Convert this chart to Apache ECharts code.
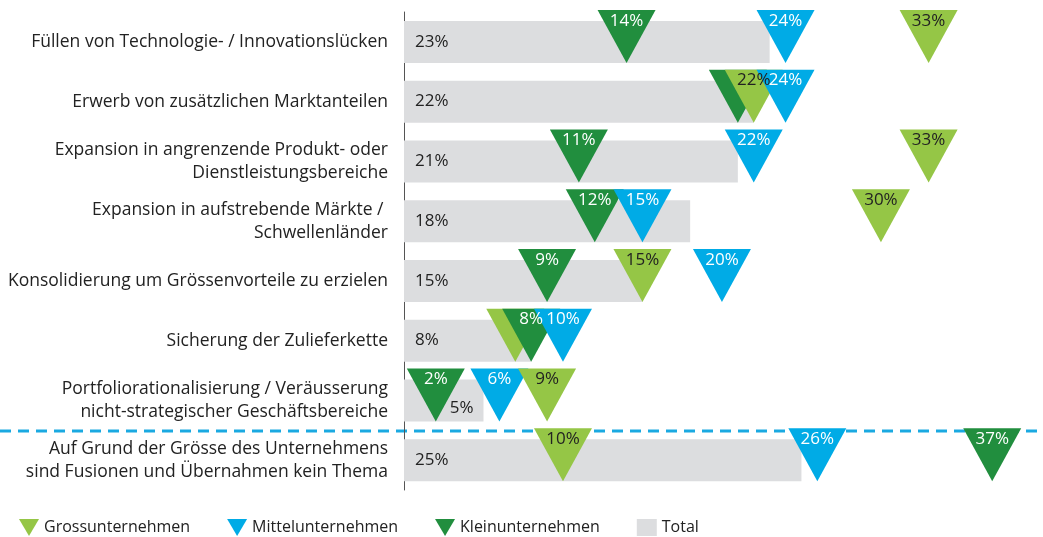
<!DOCTYPE html>
<html>
<head>
<meta charset="utf-8">
<script src="https://cdn.jsdelivr.net/npm/echarts@6/dist/echarts.min.js"></script>
<style>
  html, body { margin: 0; padding: 0; background: #fff; }
  #main { width: 1043px; height: 537px; }
</style>
</head>
<body>
<div id="main"></div>
<script>
// Kategorien (von oben nach unten)
var categories = [
  'Füllen von Technologie- / Innovationslücken',
  'Erwerb von zusätzlichen Marktanteilen',
  'Expansion in angrenzende Produkt- oder\nDienstleistungsbereiche',
  'Expansion in aufstrebende Märkte / \nSchwellenländer',
  'Konsolidierung um Grössenvorteile zu erzielen',
  'Sicherung der Zulieferkette',
  'Portfoliorationalisierung / Veräusserung\nnicht-strategischer Geschäftsbereiche',
  'Auf Grund der Grösse des Unternehmens\nsind Fusionen und Übernahmen kein Thema'
];
var total = [23, 22, 21, 18, 15, 8, 5, 25];
var gross = [33, 22, 33, 30, 15, 7, 9, 10];
var mittel = [24, 24, 22, 15, 20, 10, 6, 26];
var klein = [14, 21, 11, 12, 9, 8, 2, 37];

var COL_GROSS = '#95c646';
var COL_MITTEL = '#00abe6';
var COL_KLEIN = '#218e3e';
var COL_TOTAL = '#dcdddf';
var FONT = '"Open Sans", sans-serif';

var allSeries = [gross, mittel, klein];

// Label verdeckt, wenn ein grösserer Wert in derselben Zeile sehr nah liegt
function covered(v, row) {
  for (var i = 0; i < allSeries.length; i++) {
    var o = allSeries[i][row];
    if (o > v && o - v < 1.5) return true;
  }
  return false;
}

function triSeries(name, values, color, textColor) {
  return {
    name: name,
    type: 'custom',
    itemStyle: { color: color },
    data: values.map(function (v, i) { return [v, i]; }),
    renderItem: function (params, api) {
      var v = api.value(0);
      var row = api.value(1);
      var p = api.coord([v, row]);
      var w = 29, up = 32, down = 21;
      var children = [{
        type: 'polygon',
        z2: v * 10,
        shape: { points: [[p[0] - w, p[1] - up], [p[0] + w, p[1] - up], [p[0], p[1] + down]] },
        style: { fill: color }
      }];
      if (!covered(v, row)) {
        children.push({
          type: 'text',
          z2: 1000,
          x: p[0], y: p[1] - 21,
          style: {
            text: v + '%', fill: textColor, font: '17px ' + FONT,
            align: 'center', verticalAlign: 'middle'
          }
        });
      }
      return { type: 'group', children: children };
    }
  };
}

var chart = echarts.init(document.getElementById('main'));

var totalData = total.map(function (v, i) {
  var d = { value: v };
  if (i === 6) d.label = { position: 'insideRight', distance: 10, offset: [0, 8] };
  return d;
});

var option = {
  animation: false,
  textStyle: { fontFamily: FONT },
  grid: { left: 404, right: 19, top: 12, height: 478, containLabel: false },
  xAxis: { type: 'value', min: 0, max: 39, show: false },
  yAxis: {
    type: 'category', inverse: true, data: categories,
    axisLine: { show: true, lineStyle: { color: '#555', width: 1 } },
    axisTick: { show: false },
    axisLabel: { color: '#222', fontSize: 17.5, lineHeight: 23, margin: 16, fontFamily: FONT, align: 'right' }
  },
  legend: {
    left: 14, top: 514,
    itemWidth: 20, itemHeight: 17, itemGap: 37,
    textStyle: { color: '#222', fontSize: 16, fontFamily: FONT },
    data: [
      { name: 'Grossunternehmen', icon: 'path://M0,0L20,0L10,17Z' },
      { name: 'Mittelunternehmen', icon: 'path://M0,0L20,0L10,17Z' },
      { name: 'Kleinunternehmen', icon: 'path://M0,0L20,0L10,17Z' },
      { name: 'Total', icon: 'rect' }
    ]
  },
  series: [
    {
      name: 'Total', type: 'bar', barWidth: 42, z: 1,
      itemStyle: { color: COL_TOTAL },
      label: {
        show: true, position: 'insideLeft', distance: 11,
        color: '#222', fontSize: 17, fontFamily: FONT, formatter: '{c}%'
      },
      data: totalData
    },
    triSeries('Grossunternehmen', gross, COL_GROSS, '#222'),
    triSeries('Mittelunternehmen', mittel, COL_MITTEL, '#fff'),
    triSeries('Kleinunternehmen', klein, COL_KLEIN, '#fff')
  ]
};
chart.setOption(option);

// gestrichelte Trennlinie zwischen den letzten beiden Kategorien
var y6 = chart.convertToPixel({ yAxisIndex: 0 }, categories[6]);
var y7 = chart.convertToPixel({ yAxisIndex: 0 }, categories[7]);
var ySep = Math.round((y6 + y7) / 2) + 1;
chart.setOption({
  graphic: [{
    type: 'line', z: 0,
    shape: { x1: 0, y1: ySep, x2: chart.getWidth(), y2: ySep },
    style: { stroke: '#1aa9e1', lineWidth: 3, lineDash: [11, 7] }
  }]
});
</script>
</body>
</html>
